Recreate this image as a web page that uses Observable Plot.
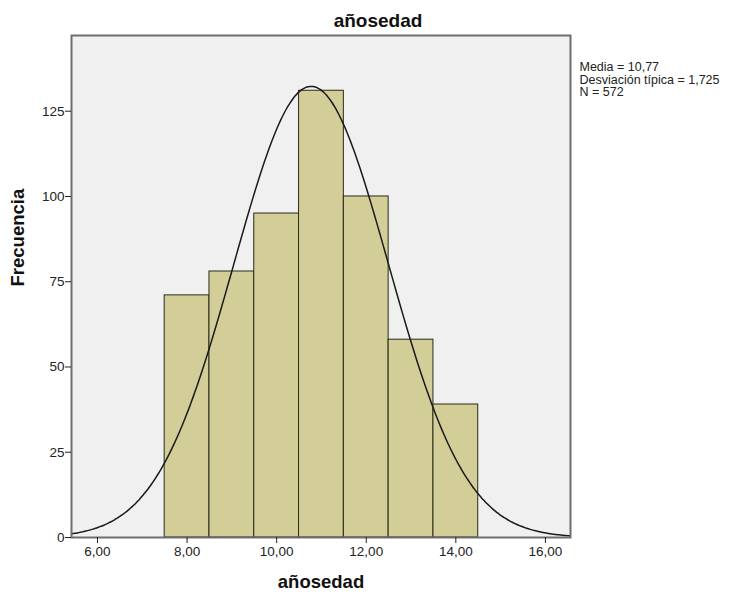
<!DOCTYPE html>
<html><head><meta charset="utf-8">
<script src="https://cdn.jsdelivr.net/npm/d3@7"></script>
<script src="https://cdn.jsdelivr.net/npm/@observablehq/plot@0.6"></script>
<style>body{margin:0;background:#fff;font-family:"Liberation Sans",Arial,sans-serif}</style>
</head><body><div id="chart"></div>
<script>
const binStarts = [7.5, 8.5, 9.5, 10.5, 11.5, 12.5, 13.5];
const binWidth = 1;
const counts = [71, 78, 95, 131, 100, 58, 39];
const xTicks = [6, 8, 10, 12, 14, 16];
const yTicks = [0, 25, 50, 75, 100, 125];
const mean = 10.77, sd = 1.725, n = 572;
const title = "añosedad";
const xLabel = "añosedad";
const yLabel = "Frecuencia";
const statsLines = ["Media = 10,77", "Desviación típica = 1,725", "N = 572"];

const bins = binStarts.map((s, i) => ({x1: s, x2: s + binWidth, y: counts[i]}));
const xDomain = [5.42, 16.56];
const curve = d3.range(xDomain[0], xDomain[1] + 0.001, 0.04).map(x => ({
  x, y: n * binWidth / (sd * Math.sqrt(2 * Math.PI)) * Math.exp(-0.5 * ((x - mean) / sd) ** 2)
}));
const fmt = d => d.toFixed(2).replace(".", ",");

const chart = Plot.plot({
  width: 729, height: 595,
  marginLeft: 71, marginTop: 35, marginRight: 159, marginBottom: 58,
  style: {fontFamily: '"Liberation Sans", Arial, sans-serif', fontSize: "13.5px", color: "#222", background: "#fff", overflow: "visible"},
  x: {domain: xDomain, ticks: xTicks, tickFormat: fmt, tickSize: 6, label: null},
  y: {domain: [0, 147.2], ticks: yTicks, tickSize: 6, label: null},
  marks: [
    Plot.frame({fill: "#f0f0f0", stroke: null}),
    Plot.rectY(bins, {x1: "x1", x2: "x2", y: "y", fill: "#d3ce97", stroke: "#2a2a1a", strokeWidth: 1}),
    Plot.line(curve, {x: "x", y: "y", stroke: "#1a1a1a", strokeWidth: 1.5, curve: "basis"}),
    Plot.frame({stroke: "#6e6e6e", strokeWidth: 2}),
    Plot.axisX({ticks: xTicks, tickFormat: fmt, tickSize: 6, tickPadding: 3, stroke: "#222", fill: "#222", fontSize: 13.5, label: null}),
    Plot.axisY({ticks: yTicks, tickSize: 6, tickPadding: 1, stroke: "#222", fill: "#222", fontSize: 13.5, label: null}),
    Plot.text([title], {frameAnchor: "top", dx: 57, dy: -22, text: d => d, fontWeight: "bold", fontSize: 19, fill: "#111"}),
    Plot.text([xLabel], {frameAnchor: "bottom", dy: 50, text: d => d, fontWeight: "bold", fontSize: 18.5, fill: "#111"}),
    Plot.text([yLabel], {frameAnchor: "left", dx: -53, rotate: -90, text: d => d, fontWeight: "bold", fontSize: 18.5, fill: "#111"}),
    Plot.text([statsLines.join("\n")], {frameAnchor: "top-right", dx: 9, dy: 27, textAnchor: "start", lineHeight: 1.0, text: d => d, fontSize: 12.5, fill: "#222"})
  ]
});
document.getElementById("chart").appendChild(chart);
</script>
</body></html>
